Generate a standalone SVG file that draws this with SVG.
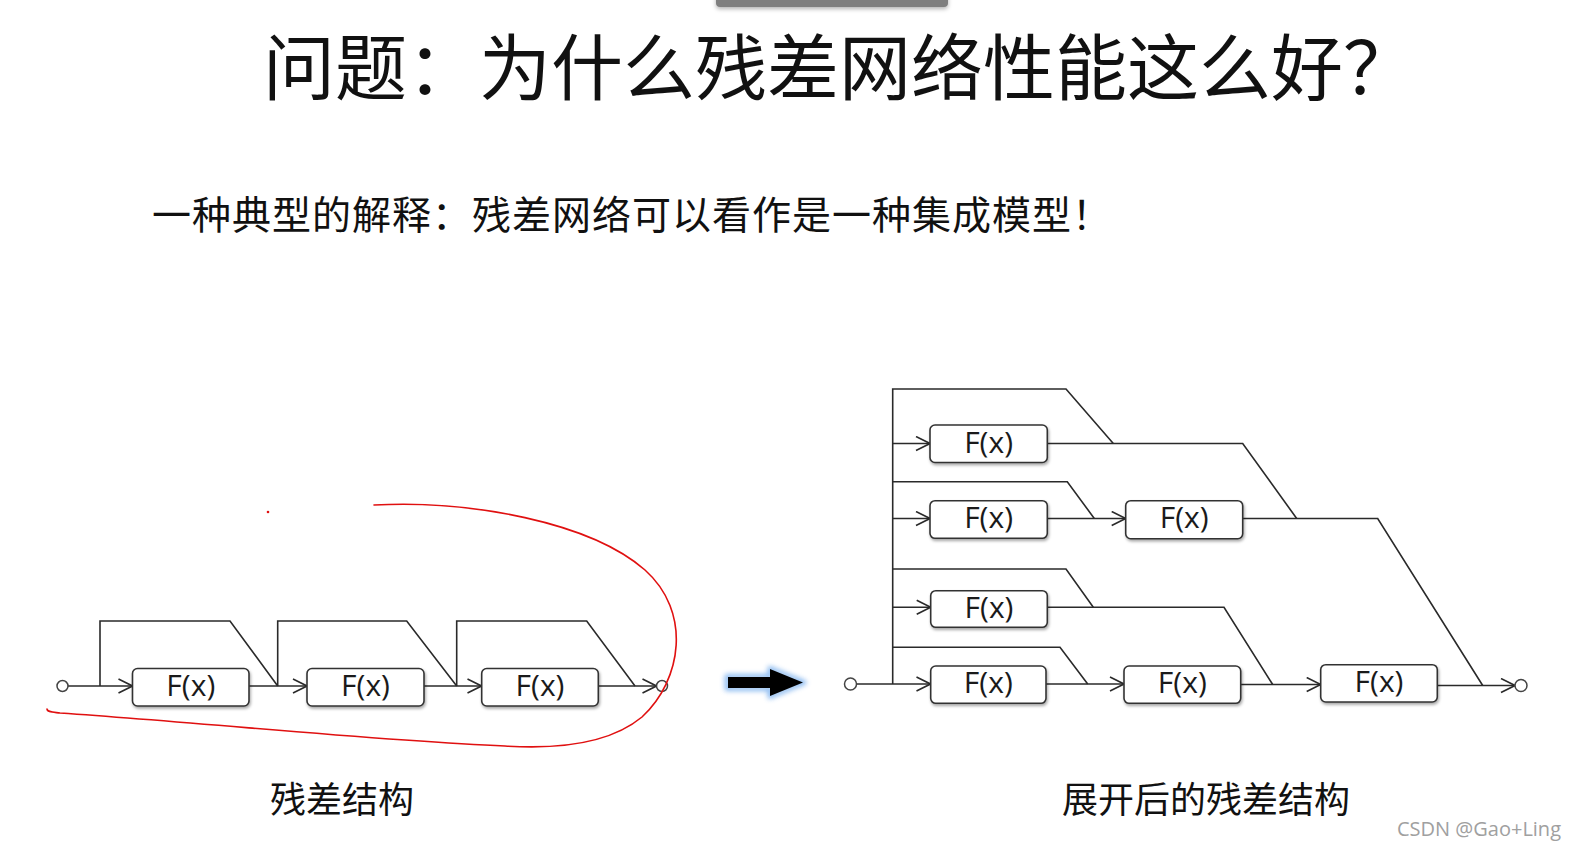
<svg xmlns="http://www.w3.org/2000/svg" width="1576" height="853" viewBox="0 0 1576 853">
<style>
.cjk{font-family:"Noto Sans CJK SC","Noto Sans",sans-serif;fill:#111}
.box rect{fill:#fff;stroke:#333;stroke-width:1.6;filter:url(#sh)}
.box text{font-family:"Open Sans","Liberation Sans",sans-serif;font-size:30px;fill:#1a1a1a;text-anchor:middle}
.ln{fill:none;stroke:#2a2a2a;stroke-width:1.6;stroke-linejoin:miter}
.ar{marker-end:url(#arr)}
.port{fill:#fff;stroke:#444;stroke-width:1.5}
</style>
<defs>
<filter id="sh" x="-10%" y="-20%" width="120%" height="160%">
<feDropShadow dx="1" dy="2" stdDeviation="1.5" flood-color="#000" flood-opacity="0.35"/>
</filter>
<filter id="glow" x="-30%" y="-60%" width="160%" height="220%">
<feGaussianBlur stdDeviation="2.5"/>
</filter>
<filter id="bsh" x="-10%" y="-100%" width="120%" height="400%">
<feDropShadow dx="0" dy="2" stdDeviation="2" flood-color="#000" flood-opacity="0.3"/>
</filter>
<marker id="arr" viewBox="0 0 16 16" markerWidth="16" markerHeight="16" refX="15" refY="8" orient="auto" markerUnits="userSpaceOnUse">
<path d="M1,1 L15,8 L1,15" fill="none" stroke="#2a2a2a" stroke-width="1.6"/>
</marker>
</defs>
<rect width="1576" height="853" fill="#fff"/>
<rect x="716" y="-8" width="232" height="15" rx="4" fill="#7f7f7f" filter="url(#bsh)"/>

<text class="cjk" x="263" y="94" font-size="72">问题：为什么残差网络性能这么好？</text>
<text class="cjk" x="152" y="229" font-size="39" letter-spacing="1">一种典型的解释：残差网络可以看作是一种集成模型！</text>
<text class="cjk" x="270" y="813" font-size="36">残差结构</text>
<text class="cjk" x="1062" y="813" font-size="36">展开后的残差结构</text>
<text x="1397" y="836" font-family="'Open Sans','Liberation Sans',sans-serif" font-size="20" fill="#a0a0a0">CSDN @Gao+Ling</text>

<g id="connectors">
<!-- left diagram -->
<path class="ln ar" d="M68,686 H132.5"/>
<path class="ln" d="M100,686 V621 H230 L277.7,686"/>
<path class="ln ar" d="M249,686 H307"/>
<path class="ln" d="M277.7,686 V621 H406.7 L456.7,686"/>
<path class="ln ar" d="M424,686 H481.5"/>
<path class="ln" d="M456.7,686 V621 H586.7 L635,686"/>
<path class="ln ar" d="M598.3,686 H656.5"/>
<!-- right diagram -->
<path class="ln" d="M892.7,684 V389 H1066 L1113.3,443.5"/>
<path class="ln ar" d="M856.5,684 H930.5"/>
<path class="ln ar" d="M892.7,443.5 H930"/>
<path class="ln" d="M1047.3,443.5 H1242.7 L1296.7,518.5"/>
<path class="ln" d="M892.7,481.7 H1067.3 L1094.3,518.5"/>
<path class="ln ar" d="M892.7,518.5 H930"/>
<path class="ln ar" d="M1047.3,518.5 H1125.7"/>
<path class="ln" d="M1242.7,518.5 H1377.7 L1482.7,685.5"/>
<path class="ln" d="M892.7,569 H1066 L1093.3,607.3"/>
<path class="ln ar" d="M892.7,607.3 H930.7"/>
<path class="ln" d="M1047.3,607.3 H1224 L1272.7,684.5"/>
<path class="ln" d="M892.7,647.3 H1060 L1087.7,684"/>
<path class="ln ar" d="M1046,684 H1124"/>
<path class="ln ar" d="M1240.7,684.5 H1320.7"/>
<path class="ln ar" d="M1437.3,685.5 H1515"/>
</g>

<g id="ports">
<circle class="port" cx="62.5" cy="686" r="5.5"/>
<circle class="port" cx="662" cy="686" r="5.5"/>
<circle class="port" cx="850.5" cy="684" r="6"/>
<circle class="port" cx="1521" cy="685.5" r="6"/>
</g>

<g id="L1" class="box"><rect x="132.5" y="668.5" width="116.5" height="37.5" rx="5"/><text x="190.8" y="696">F(x)</text></g>
<g id="L2" class="box"><rect x="307" y="668.5" width="117" height="37.5" rx="5"/><text x="365.5" y="696">F(x)</text></g>
<g id="L3" class="box"><rect x="481.7" y="668.5" width="116.6" height="37.5" rx="5"/><text x="540" y="696">F(x)</text></g>

<g id="R1" class="box"><rect x="930" y="425" width="117.3" height="37.5" rx="5"/><text x="988.6" y="452.5">F(x)</text></g>
<g id="R2a" class="box"><rect x="930" y="500.7" width="117.3" height="37.6" rx="5"/><text x="988.6" y="528">F(x)</text></g>
<g id="R2b" class="box"><rect x="1125.7" y="500.7" width="117" height="38" rx="5"/><text x="1184.2" y="528">F(x)</text></g>
<g id="R3" class="box"><rect x="930.7" y="590.7" width="116.6" height="36.6" rx="5"/><text x="989" y="617.5">F(x)</text></g>
<g id="R4a" class="box"><rect x="930.7" y="666" width="115.3" height="37.3" rx="5"/><text x="988.3" y="693">F(x)</text></g>
<g id="R4b" class="box"><rect x="1124" y="666" width="116.7" height="37.3" rx="5"/><text x="1182.3" y="693">F(x)</text></g>
<g id="R4c" class="box"><rect x="1320.7" y="664.7" width="116.6" height="37.3" rx="5"/><text x="1379" y="692">F(x)</text></g>

<g id="bigArrow">
<path d="M727,676.5 H770 V668.5 L804,682.5 L770,696.5 V688.5 H727 Z" fill="none" stroke="#7fb3ef" stroke-width="5" stroke-linejoin="round" opacity="0.9" filter="url(#glow)"/>
<path d="M728,677 H770 V669 L803,682.5 L770,696 V688 H728 Z" fill="#000"/>
</g>

<g id="annotation" fill="none" stroke="#e01010" stroke-width="1.6" stroke-linecap="round">
<path d="M374,505 C470,500 590,522 645,570 C692,612 682,680 642,717 C607,746 552,749 505,746 C380,741 220,724 60,713 C52,712 47,712 47,709"/>
<circle cx="268" cy="512" r="1.3" fill="#e01010" stroke="none"/>
</g>
</svg>
